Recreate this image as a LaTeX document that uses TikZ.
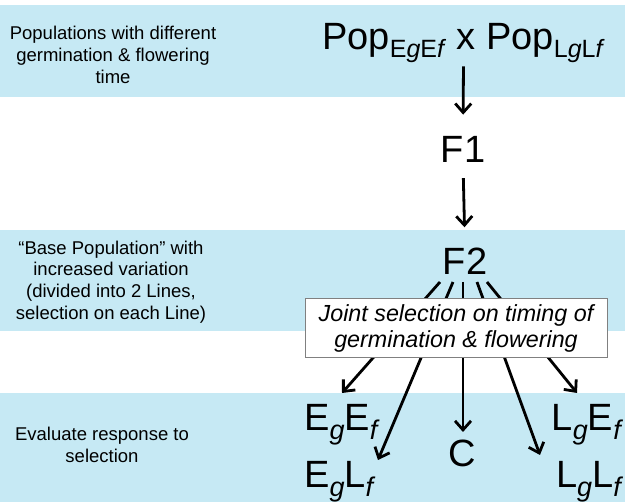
\documentclass[tikz,border=0pt]{standalone}
\usepackage{fontspec}
\setmainfont{Liberation Sans}
\usetikzlibrary{arrows.meta}
\definecolor{band}{RGB}{198,233,244}
\definecolor{boxgray}{RGB}{128,128,128}
\newcommand{\subP}[1]{\raisebox{-8pt}{\fontsize{25}{25}\selectfont #1}}
\newcommand{\subB}[1]{\raisebox{-9pt}{\fontsize{27}{27}\selectfont\itshape #1}}
\begin{document}
\begin{tikzpicture}[x=1pt,y=-1pt,
  lbl/.style={font=\fontsize{18.5}{21.8}\selectfont, align=center, inner sep=0pt},
  big/.style={font=\fontsize{38}{40}\selectfont, inner sep=0pt},
  arr/.style={line width=2.8pt, -{Straight Barb[length=9pt,width=16pt]}},
  selbox/.style={draw=boxgray, line width=1pt, fill=white, inner sep=0pt,
    minimum width=302pt, minimum height=59pt, align=center,
    font=\fontsize{23.3}{26}\selectfont\itshape},
]
\useasboundingbox (0,0) rectangle (625,502);
\fill[band] (0,5) rectangle (625,97);
\fill[band] (0,230) rectangle (625,331);
\fill[band] (0,393) rectangle (625,502);

% left labels
\node[lbl, anchor=center] (l1) at (113,55) {Populations with different\\germination \& flowering\\time};
\node[lbl, anchor=center] (l2) at (111,282) {“Base Population” with\\increased variation\\(divided into 2 Lines,\\selection on each Line)};
\node[lbl, anchor=center] (l3) at (102,445) {Evaluate response to\\selection};

% main column
\node[big, anchor=base] (pop) at (463.5,50) {Pop\subP{E\textit{g}E\textit{f}} x Pop\subP{L\textit{g}L\textit{f}}};
\node[big, anchor=base] (f1) at (463,163) {F1};
\node[big, anchor=base] (f2) at (465,275) {F2};

\draw[arr, shorten <=3pt, shorten >=22pt] (pop.south) -- (f1.north);
\draw[arr, shorten <=15pt, shorten >=21pt] (f1.south) -- (f2.north);

% results
\node[big, anchor=base west] (ee) at (304,431) {E\subB{g}E\subB{f}};
\node[big, anchor=base west] (el) at (304,488) {E\subB{g}L\subB{f}};
\node[big, anchor=base] (c) at (462,467) {C};
\node[big, anchor=base east] (le) at (621,431) {L\subB{g}E\subB{f}};
\node[big, anchor=base east] (ll) at (621,488) {L\subB{g}L\subB{f}};

% fan of arrows
\coordinate (s1) at (440,282);
\coordinate (s2) at (453,282);
\coordinate (s3) at (463,282);
\coordinate (s4) at (477,282);
\coordinate (s5) at (487,282);
\coordinate (t1) at (342,393);
\coordinate (t2) at (378,460);
\coordinate (t3) at (463,432);
\coordinate (t4) at (540,455);
\coordinate (t5) at (577,393);
\foreach \i in {1,...,5} {\draw[arr] (s\i) -- (t\i);}

\node[selbox] (sel) at (456,328.5) {Joint selection on timing of\\germination \& flowering};
\end{tikzpicture}
\end{document}
